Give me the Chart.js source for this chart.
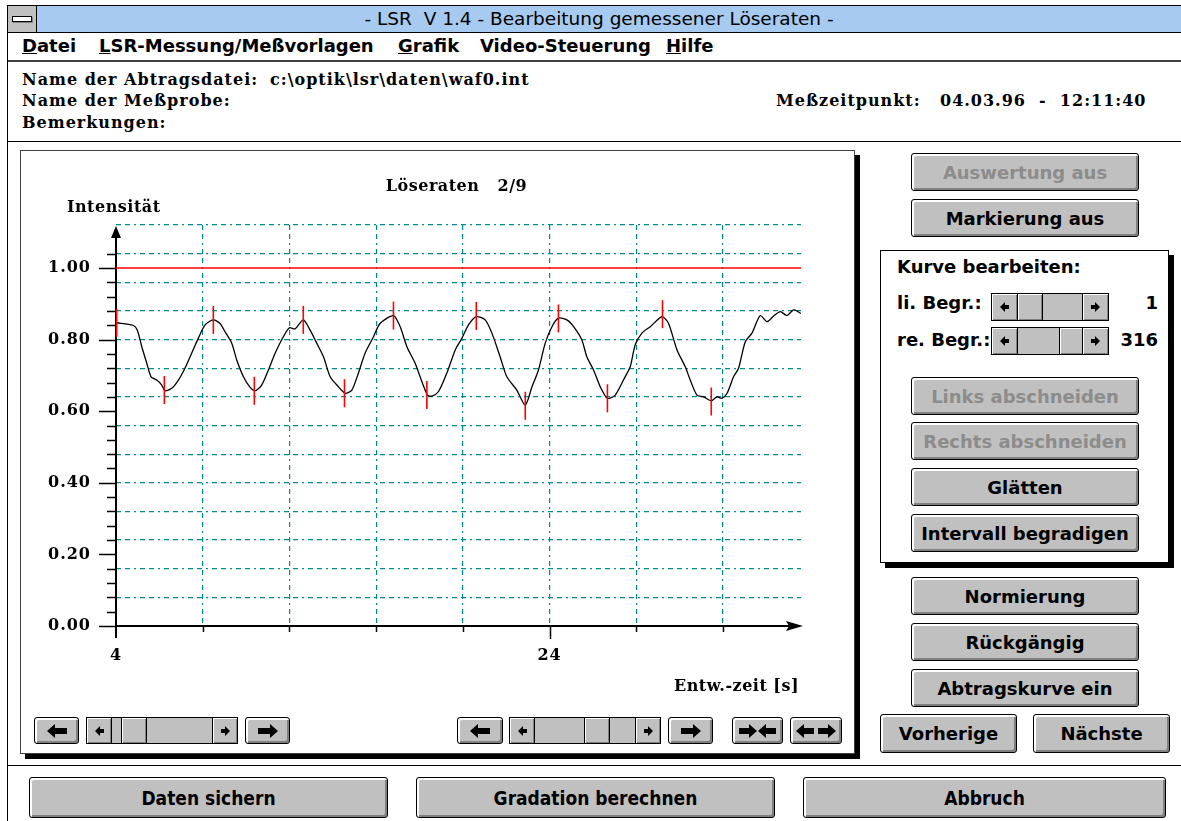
<!DOCTYPE html>
<html lang="de">
<head>
<meta charset="utf-8">
<title>LSR V 1.4 - Bearbeitung gemessener Löseraten</title>
<script src="https://cdn.jsdelivr.net/npm/chart.js@4.4.1/dist/chart.umd.min.js"></script>
<style>
  body { margin:0; width:1181px; height:821px; overflow:hidden; position:relative; background:#fff; color:#000; font-family:"DejaVu Sans", sans-serif; }
  .abs { position:absolute; box-sizing:border-box; }
  .t { position:absolute; white-space:nowrap; line-height:22px; height:22px; }
  .serif { font:bold 16px "DejaVu Serif", serif; letter-spacing:1px; }
  .sans { font:bold 18px "DejaVu Sans", sans-serif; }
  .menu { font:bold 18px "DejaVu Sans", sans-serif; }
  .btn { position:absolute; box-sizing:border-box; background:#c0c0c0; border:1px solid #000; border-radius:3px;
         box-shadow:inset 2px 2px 0 #fff, inset -2px -2px 0 #808080; display:flex; align-items:center; justify-content:center;
         font:bold 18px "DejaVu Sans", sans-serif; white-space:nowrap; }
  .btn.off { color:#8c8c8c; }
  .btn.big { font:bold 19px "DejaVu Sans Condensed", "DejaVu Sans", sans-serif; font-stretch:condensed; }
  .gap { display:inline-block; width:4px; }
  .sb { position:absolute; box-sizing:border-box; border:1px solid #000; background:#c0c0c0; }
  .sbp { position:absolute; top:0; bottom:0; box-sizing:border-box; background:#c0c0c0;
         box-shadow:inset 1px 1px 0 #fff, inset -1px -1px 0 #808080; display:flex; align-items:center; justify-content:center; }
  #plot { position:absolute; left:20px; top:150px; width:835px; height:604px; box-sizing:border-box; border:1px solid #404040; background:#fff; box-shadow:5px 5px 0 #000; }
  #plot canvas { position:absolute; left:0; top:0; }
</style>
</head>
<body>

<!-- window frame -->
<div class="abs" style="left:7px;top:5px;width:1174px;height:816px;border-left:1px solid #000;border-top:1px solid #000"></div>
<div class="abs" style="left:8px;top:6px;width:1173px;height:27px;background:#a6caf0;border-bottom:1px solid #000"></div>
<div class="abs" style="left:8px;top:6px;width:29px;height:26px;background:#c0c0c0;border-right:1px solid #000"></div>
<div class="abs" style="left:12px;top:16px;width:20px;height:6px;background:#fff;border:1px solid #000;box-shadow:1px 1px 0 #808080"></div>
<div class="t" style="left:0;width:1198px;top:8px;text-align:center;font:18.5px 'DejaVu Sans', sans-serif">- LSR&nbsp; V 1.4 - Bearbeitung gemessener Löseraten -</div>

<!-- menu -->
<div class="t menu" style="left:22px;top:35px"><u>D</u>atei</div>
<div class="t menu" style="left:99px;top:35px"><u>L</u>SR-Messung/Meßvorlagen</div>
<div class="t menu" style="left:398px;top:35px"><u>G</u>rafik</div>
<div class="t menu" style="left:480px;top:35px">Video-Steuerung</div>
<div class="t menu" style="left:666px;top:35px"><u>H</u>ilfe</div>
<div class="abs" style="left:8px;top:60px;width:1173px;height:2px;background:#404040"></div>

<!-- header -->
<div class="t serif" style="left:22px;top:70px">Name der Abtragsdatei:</div>
<div class="t serif" style="left:270px;top:70px">c:\optik\lsr\daten\waf0.int</div>
<div class="t serif" style="left:22px;top:91px">Name der Meßprobe:</div>
<div class="t serif" style="left:776px;top:91px">Meßzeitpunkt:</div>
<div class="t serif" style="left:940px;top:91px">04.03.96&nbsp; -&nbsp; 12:11:40</div>
<div class="t serif" style="left:22px;top:113px">Bemerkungen:</div>
<div class="abs" style="left:8px;top:141px;width:1173px;height:1px;background:#000"></div>

<!-- chart panel -->
<div id="plot"><canvas id="lsrChart" width="832" height="554"></canvas></div>

<!-- right side controls -->
<div class="btn off" style="left:911px;top:153px;width:228px;height:38px">Auswertung aus</div>
<div class="btn" style="left:911px;top:199px;width:228px;height:38px">Markierung aus</div>
<div class="abs" style="left:880px;top:250px;width:289px;height:313px;border:1px solid #000;background:#fff;box-shadow:5px 5px 0 #000"></div>
<div class="t sans" style="left:897px;top:256px">Kurve bearbeiten:</div>
<div class="t sans" style="left:897px;top:292px">li. Begr.:</div>
<div class="t sans" style="left:897px;top:329px">re. Begr.:</div>
<div class="t sans" style="left:1100px;width:58px;text-align:right;top:292px">1</div>
<div class="t sans" style="left:1100px;width:58px;text-align:right;top:329px">316</div>
<div class="btn off" style="left:911px;top:377px;width:228px;height:38px">Links abschneiden</div>
<div class="btn off" style="left:911px;top:422px;width:228px;height:38px">Rechts abschneiden</div>
<div class="btn" style="left:911px;top:468px;width:228px;height:38px">Glätten</div>
<div class="btn" style="left:911px;top:514px;width:228px;height:38px">Intervall begradigen</div>
<div class="btn" style="left:911px;top:577px;width:228px;height:38px">Normierung</div>
<div class="btn" style="left:911px;top:623px;width:228px;height:38px">Rückgängig</div>
<div class="btn" style="left:911px;top:669px;width:228px;height:38px">Abtragskurve ein</div>
<div class="btn" style="left:880px;top:714px;width:137px;height:39px">Vorherige</div>
<div class="btn" style="left:1033px;top:714px;width:137px;height:39px">Nächste</div>

<!-- bottom -->
<div class="abs" style="left:8px;top:765px;width:1173px;height:1px;background:#000"></div>
<div class="btn big" style="left:29px;top:777px;width:359px;height:41px">Daten sichern</div>
<div class="btn big" style="left:416px;top:777px;width:359px;height:41px">Gradation berechnen</div>
<div class="btn big" style="left:803px;top:777px;width:363px;height:41px">Abbruch</div>

<script>
// Löseraten 2/9 : gemessene Intensität über Entwicklungszeit
var timeSec = [4.03, 4.78, 4.98, 5.19, 5.42, 5.62, 5.88, 6.11, 6.26, 6.57, 6.88, 7.18, 7.49, 7.80, 8.11, 8.49, 8.80, 9.03, 9.34, 9.57,
  9.88, 10.18, 10.42, 10.72, 11.03, 11.34, 11.72, 12.00, 12.26, 12.64, 12.95, 13.26, 13.57, 13.88, 14.19, 14.57, 14.88, 15.18, 15.49, 15.88,
  16.18, 16.80, 17.11, 17.42, 17.80, 18.03, 18.37, 18.57, 18.88, 19.26, 19.65, 19.96, 20.26, 20.62, 21.03, 21.34, 21.72, 22.03, 22.49, 22.88,
  23.19, 23.49, 23.80, 24.11, 24.41, 24.80, 25.11, 25.49, 25.72, 26.03, 26.34, 26.67, 27.03, 27.41, 27.72, 27.95, 28.26, 28.65, 29.19, 29.49,
  29.88, 30.26, 30.49, 30.80, 31.11, 31.46, 31.72, 31.95, 32.19, 32.49, 32.72, 33.03, 33.34, 33.72, 34.03, 34.34, 34.65, 34.95, 35.26, 35.60];
var intensity = [0.847, 0.840, 0.827, 0.780, 0.734, 0.696, 0.687, 0.673, 0.657, 0.664, 0.687, 0.720, 0.762, 0.804, 0.841, 0.855, 0.845, 0.822, 0.790, 0.743,
  0.696, 0.667, 0.657, 0.673, 0.715, 0.762, 0.808, 0.833, 0.830, 0.855, 0.827, 0.790, 0.752, 0.696, 0.673, 0.650, 0.659, 0.706, 0.762, 0.808,
  0.845, 0.867, 0.836, 0.780, 0.734, 0.696, 0.645, 0.642, 0.655, 0.706, 0.771, 0.804, 0.841, 0.864, 0.855, 0.818, 0.752, 0.696, 0.659, 0.617,
  0.668, 0.715, 0.790, 0.836, 0.860, 0.855, 0.836, 0.799, 0.752, 0.715, 0.668, 0.636, 0.645, 0.687, 0.724, 0.785, 0.818, 0.836, 0.864, 0.845,
  0.771, 0.724, 0.687, 0.645, 0.640, 0.629, 0.640, 0.636, 0.650, 0.696, 0.720, 0.794, 0.818, 0.867, 0.850, 0.866, 0.878, 0.867, 0.883, 0.873];

// markierte Extrema (rote Striche)
var markerTime = [4.03, 6.23, 8.49, 10.38, 12.64, 14.54, 16.80, 18.34, 20.62, 22.88, 24.41, 26.67, 29.21, 31.46];
var markerValue = [0.847, 0.659, 0.855, 0.657, 0.855, 0.650, 0.867, 0.645, 0.866, 0.615, 0.859, 0.636, 0.871, 0.627];

// Normierungslinie
var refTime = [4, 35.6];
var refValue = [1.0, 1.0];

var xMin = 4, xMax = 35.6, xGridStep = 4;
var yMin = 0, yMax = 1.12, yTickStep = 0.04, yGridStep = 0.08, yTickTop = 1.04;
var xLabelValues = [4, 24];
var yLabelValues = [0, 0.2, 0.4, 0.6, 0.8, 1.0];

var chartTitle = "Löseraten   2/9";
var yTitle = "Intensität";
var xTitle = "Entw.-zeit [s]";

var gridColor = "#008c8c";
var gridDash = [5, 4, 5, 4, 2, 4];
var serifFont = { family: "DejaVu Serif", weight: "bold", size: 16 };

function pairs(xs, ys) {
  return xs.map(function (x, i) { return { x: x, y: ys[i] }; });
}
function isMult(v, step) {
  var q = v / step;
  return Math.abs(q - Math.round(q)) < 1e-6;
}
function inList(list, v) {
  return list.some(function (l) { return Math.abs(l - v) < 1e-6; });
}
function stepTicks(from, to, step) {
  var out = [];
  var n = Math.round((to - from) / step);
  for (var i = 0; i <= n; i++) out.push({ value: Math.round((from + i * step) * 1000) / 1000 });
  return out;
}

// Achsen mit Pfeilen, Teilstriche und Beschriftung im Stil der Vorlage
var lsrFrame = {
  id: "lsrFrame",
  beforeDraw: function (chart) {
    chart.ctx.letterSpacing = "1px";
  },
  beforeDatasetsDraw: function (chart) {
    var c = chart.ctx, a = chart.chartArea, xs = chart.scales.x, ys = chart.scales.y;
    var ox = xs.getPixelForValue(xMin), oy = ys.getPixelForValue(0);
    c.save();
    c.strokeStyle = "#000";
    c.fillStyle = "#000";
    c.lineWidth = 2;
    c.beginPath();
    c.moveTo(ox, oy + 12);
    c.lineTo(ox, a.top + 12);
    c.moveTo(ox, oy);
    c.lineTo(a.right - 8, oy);
    c.stroke();
    c.beginPath();
    c.moveTo(ox, a.top + 1);
    c.lineTo(ox - 5, a.top + 13);
    c.lineTo(ox + 5, a.top + 13);
    c.closePath();
    c.fill();
    c.beginPath();
    c.moveTo(a.right + 2, oy);
    c.lineTo(a.right - 15, oy - 5);
    c.lineTo(a.right - 12, oy);
    c.lineTo(a.right - 15, oy + 5);
    c.closePath();
    c.fill();
    c.lineWidth = 1.5;
    ys.ticks.forEach(function (t) {
      if (t.value > yTickTop + 1e-6) return;
      var py = Math.round(ys.getPixelForValue(t.value)) + 0.5;
      var len = inList(yLabelValues, t.value) ? 17 : 9;
      c.beginPath();
      c.moveTo(ox - len, py);
      c.lineTo(ox, py);
      c.stroke();
    });
    xs.ticks.forEach(function (t) {
      if (t.value === xMin) return;
      var px = Math.round(xs.getPixelForValue(t.value)) + 0.5;
      var len = inList(xLabelValues, t.value) ? 13 : 6;
      c.beginPath();
      c.moveTo(px, oy);
      c.lineTo(px, oy + len);
      c.stroke();
    });
    c.restore();
  },
  afterDraw: function (chart) {
    var c = chart.ctx, a = chart.chartArea;
    var ox = chart.scales.x.getPixelForValue(xMin);
    c.save();
    c.font = "bold 16px 'DejaVu Serif'";
    c.letterSpacing = "0.5px";
    c.fillStyle = "#000";
    c.textBaseline = "middle";
    c.textAlign = "center";
    c.fillText(chartTitle, (a.left + a.right) / 2 - 2, a.top - 38);
    c.textAlign = "left";
    c.fillText(yTitle, ox - 49, a.top - 17);
    c.textAlign = "right";
    c.fillText(xTitle, a.right - 2, a.bottom + 61);
    c.restore();
  }
};

var ctx = document.getElementById("lsrChart").getContext("2d");
var lsrChart = new Chart(ctx, {
  type: "line",
  data: {
    datasets: [
      {
        label: "Extrema",
        data: pairs(markerTime, markerValue),
        showLine: false,
        pointStyle: "line",
        rotation: 90,
        pointRadius: 14,
        pointBorderColor: "#ff0000",
        pointBorderWidth: 1.6,
        order: 0,
      },
      {
        label: "Löserate",
        data: pairs(timeSec, intensity),
        borderColor: "#000000",
        borderWidth: 1.3,
        pointRadius: 0,
        tension: 0.25,
        fill: false,
        order: 1,
      },
      {
        label: "Norm",
        data: pairs(refTime, refValue),
        borderColor: "#ff0000",
        borderWidth: 1.6,
        pointRadius: 0,
        fill: false,
        order: 2,
      },
    ],
  },
  options: {
    responsive: false,
    animation: false,
    events: [],
    layout: { padding: { top: 74, right: 52, left: 0, bottom: 0 } },
    plugins: { legend: { display: false }, tooltip: { enabled: false }, title: { display: false } },
    scales: {
      x: {
        type: "linear",
        min: xMin,
        max: xMax,
        afterBuildTicks: function (scale) { scale.ticks = stepTicks(xMin, 32, xGridStep); },
        afterFit: function (scale) { scale.height = 79; },
        grid: {
          drawTicks: false,
          lineWidth: 1.2,
          color: function (c) { return c.tick && c.tick.value > xMin ? gridColor : "rgba(0,0,0,0)"; },
        },
        border: { display: false, dash: gridDash },
        ticks: {
          autoSkip: false,
          maxRotation: 0,
          padding: 20,
          color: "#000",
          font: serifFont,
          callback: function (v) { return inList(xLabelValues, v) ? String(v) : ""; },
        },
      },
      y: {
        min: yMin,
        max: yMax,
        afterBuildTicks: function (scale) { scale.ticks = stepTicks(yMin, yMax, yTickStep); },
        afterFit: function (scale) { scale.width = 95; },
        grid: {
          drawTicks: false,
          lineWidth: 1.2,
          color: function (c) {
            return c.tick && c.tick.value > 0 && isMult(c.tick.value, yGridStep) ? gridColor : "rgba(0,0,0,0)";
          },
        },
        border: { display: false, dash: gridDash },
        ticks: {
          autoSkip: false,
          padding: 25,
          color: "#000",
          font: serifFont,
          callback: function (v) { return inList(yLabelValues, v) ? v.toFixed(2) : ""; },
        },
      },
    },
  },
  plugins: [lsrFrame],
});

// Bildlaufleisten und Pfeiltasten (Fensterelemente)
var bigL = '<svg width="20" height="14" viewBox="0 0 20 14"><path d="M0 7L8 0V4H20V10H8V14Z"/></svg>';
var bigR = '<svg width="20" height="14" viewBox="0 0 20 14"><path d="M20 7L12 0V4H0V10H12V14Z"/></svg>';
var midL = '<svg width="18" height="14" viewBox="0 0 18 14"><path d="M0 7L8 0V4H18V10H8V14Z"/></svg>';
var midR = '<svg width="18" height="14" viewBox="0 0 18 14"><path d="M18 7L10 0V4H0V10H10V14Z"/></svg>';
var smallL = '<svg width="9" height="10" viewBox="0 0 9 10"><path d="M0 5L5 0V3H9V7H5V10Z"/></svg>';
var smallR = '<svg width="9" height="10" viewBox="0 0 9 10"><path d="M9 5L4 0V3H0V7H4V10Z"/></svg>';
var gap = '<span class="gap"></span>';

function addButton(left, top, width, height, html) {
  var b = document.createElement("div");
  b.className = "btn";
  b.style.cssText = "left:" + left + "px;top:" + top + "px;width:" + width + "px;height:" + height + "px";
  b.innerHTML = html;
  document.body.appendChild(b);
}
function addScrollBar(left, top, width, height, arrowW, thumbLeft, thumbW) {
  var s = document.createElement("div");
  s.className = "sb";
  s.style.cssText = "left:" + left + "px;top:" + top + "px;width:" + width + "px;height:" + height + "px";
  s.innerHTML =
    '<div class="sbp" style="left:0;width:' + arrowW + 'px;border-right:1px solid #000">' + smallL + '</div>' +
    '<div class="sbp" style="left:' + thumbLeft + 'px;width:' + thumbW + 'px;border-left:1px solid #000;border-right:1px solid #000"></div>' +
    '<div class="sbp" style="right:0;width:' + arrowW + 'px;border-left:1px solid #000">' + smallR + '</div>';
  document.body.appendChild(s);
}

addButton(34, 717, 45, 27, bigL);
addScrollBar(86, 717, 152, 27, 25, 34, 26);
addButton(245, 717, 45, 27, bigR);
addButton(457, 717, 46, 27, bigL);
addScrollBar(509, 717, 152, 27, 25, 74, 26);
addButton(668, 717, 45, 27, bigR);
addButton(732, 717, 51, 27, midR + '<span style="display:inline-block;width:1px"></span>' + midL);
addButton(790, 717, 52, 27, midL + gap + midR);
addScrollBar(991, 293, 118, 28, 26, 25, 26);
addScrollBar(991, 327, 118, 28, 26, 67, 26);
</script>
</body>
</html>
